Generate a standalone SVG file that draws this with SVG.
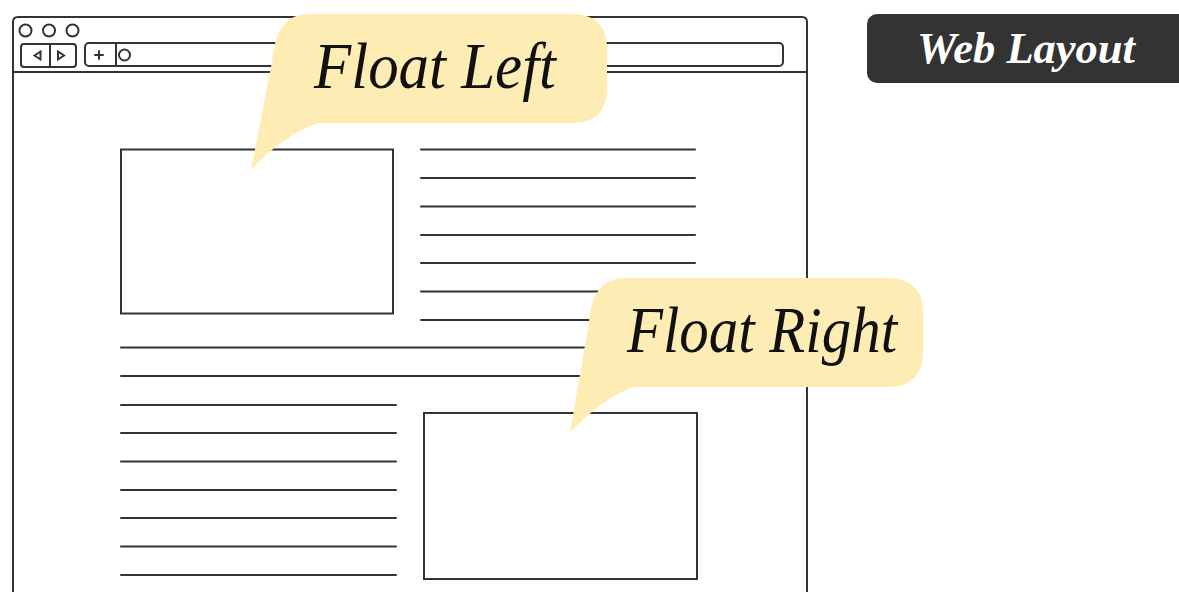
<svg xmlns="http://www.w3.org/2000/svg" width="1179" height="592" viewBox="0 0 1179 592">
<style>
.ln{stroke:#333;stroke-width:2;fill:none;stroke-linecap:round}
.bx{stroke:#333;stroke-width:2;fill:#fff}
.bub{fill:#FDECB3}
.bt{font-family:"Liberation Serif","Times New Roman",serif;font-style:italic;fill:#111}
</style>
<rect width="1179" height="592" fill="#fff"/>
<g id="browser">
<path class="ln" d="M13,600 V22 Q13,17 18,17 H802 Q807,17 807,22 V600"/>
<circle class="ln" cx="25.5" cy="30.5" r="6" stroke-width="1.7"/>
<circle class="ln" cx="49" cy="30.5" r="6" stroke-width="1.7"/>
<circle class="ln" cx="72.5" cy="30.5" r="6" stroke-width="1.7"/>
<rect class="ln" x="21" y="44" width="55" height="23" rx="3"/>
<line class="ln" x1="50" y1="44" x2="50" y2="67"/>
<path class="ln" d="M34.5,55.5 L40.5,51.5 V59.5 Z" stroke-width="1.6"/>
<path class="ln" d="M58,51.5 V59.5 L64,55.5 Z" stroke-width="1.6"/>
<rect class="ln" x="85" y="43" width="698" height="23" rx="4"/>
<path class="ln" d="M95,55 H103 M99,51 V59" stroke-width="1.6"/>
<line class="ln" x1="116" y1="43" x2="116" y2="66"/>
<circle class="ln" cx="124.5" cy="55" r="5.5" stroke-width="1.7"/>
<line class="ln" x1="13" y1="72" x2="807" y2="72"/>
</g>
<g id="text-lines">
<path class="ln" d="M421,149.5 H695 M421,178 H695 M421,206.5 H695 M421,235 H695 M421,263 H695 M421,291.5 H695 M421,320 H695"/>
<path class="ln" d="M121,347.5 H695 M121,376 H695"/>
<path class="ln" d="M121,405 H396 M121,433 H396 M121,461.5 H396 M121,490 H396 M121,518 H396 M121,546.5 H396 M121,575 H396"/>
</g>
<g id="box-left">
<rect class="bx" x="121" y="149.5" width="272" height="164"/>
</g>
<g id="box-right">
<rect class="bx" x="424" y="413" width="273" height="166"/>
</g>
<g id="bubble-float-left">
<path class="bub" d="M308,14 H572 Q607,14 607,49 V88 Q607,123 572,123 H318 Q282,136 251,170 L272,62 Q276,14 308,14 Z"/>
<text class="bt" x="314" y="88" font-size="66" textLength="242" lengthAdjust="spacingAndGlyphs">Float Left</text>
</g>
<g id="bubble-float-right">
<path class="bub" d="M625,278 H888 Q923,278 923,313 V352 Q923,387 888,387 H633 Q600,400 570,433 L589,322 Q592,278 625,278 Z"/>
<text class="bt" x="627" y="352" font-size="66" textLength="270" lengthAdjust="spacingAndGlyphs">Float Right</text>
</g>
<g id="label-web-layout">
<rect x="867" y="14" width="330" height="69" rx="10" fill="#333"/>
<text x="917" y="63" font-family="'Liberation Serif','Times New Roman',serif" font-style="italic" font-weight="bold" font-size="44" fill="#fff" textLength="218" lengthAdjust="spacingAndGlyphs">Web Layout</text>
</g>
</svg>
